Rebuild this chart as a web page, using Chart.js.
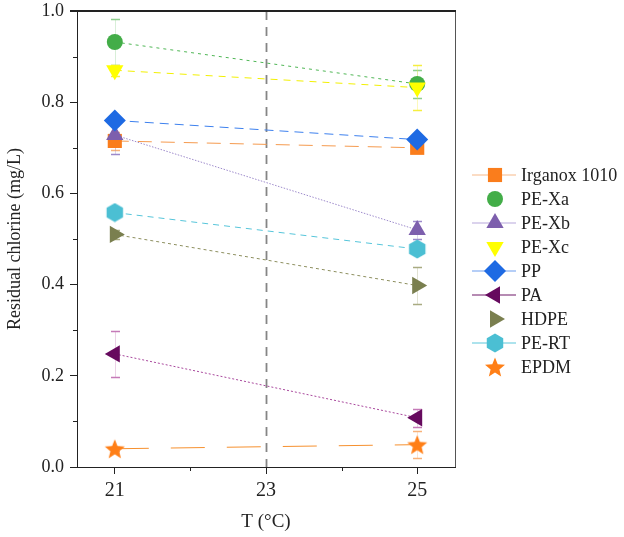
<!DOCTYPE html>
<html>
<head>
<meta charset="utf-8">
<script src="https://cdn.jsdelivr.net/npm/chart.js@4.4.1/dist/chart.umd.min.js"></script>
<style>
  html, body { margin: 0; padding: 0; background: #fff; }
  #wrap { width: 624px; height: 537px; }
</style>
</head>
<body>
<div id="wrap"><canvas id="chart" width="624" height="537"></canvas></div>
<script>
// temperatures (°C) and residual chlorine (mg/L)
const temps = [21, 25];
const irganox = [0.715, 0.700];
const peXa = [0.932, 0.840];
const peXb = [0.728, 0.520];
const peXc = [0.870, 0.832];
const pp = [0.760, 0.718];
const pa = [0.248, 0.108];
const hdpe = [0.510, 0.398];
const peRt = [0.558, 0.478];
const epdm = [0.040, 0.049];

// error bars (+/-)
const irganoxErr = [0.02, 0.01];
const peXaErr = [0.05, 0.03];
const peXbErr = [0.042, 0.02];
const peXcErr = [0.012, 0.05];
const ppErr = [0.01, 0.01];
const paErr = [0.05, 0.02];
const hdpeErr = [0.01, 0.04];
const peRtErr = [0.01, 0.01];
const epdmErr = [0.004, 0.03];

const xTicks = [21, 23, 25];
const xMinor = [22, 24];
const yTicks = [0, 0.2, 0.4, 0.6, 0.8, 1.0];
const yMinor = [0.1, 0.3, 0.5, 0.7, 0.9];

const serif = "'Liberation Serif', 'DejaVu Serif', serif";

function shapeCanvas(draw, size) {
  const c = document.createElement('canvas');
  c.width = size; c.height = size;
  draw(c.getContext('2d'), size / 2);
  return c;
}
const hexagon = shapeCanvas((g, r) => {
  g.fillStyle = '#4bbfd3';
  g.beginPath();
  for (let i = 0; i < 6; i++) {
    const a = Math.PI / 2 + i * Math.PI / 3;
    g.lineTo(r + (r - 0.5) * Math.cos(a), r - (r - 0.5) * Math.sin(a));
  }
  g.closePath();
  g.fill();
}, 20);
const star = shapeCanvas((g, r) => {
  g.fillStyle = '#ff7f17';
  g.beginPath();
  for (let i = 0; i < 10; i++) {
    const rr = i % 2 ? r * 0.42 : r - 0.5;
    const a = -Math.PI / 2 + i * Math.PI / 5;
    g.lineTo(r + rr * Math.cos(a), r + 1 + rr * Math.sin(a));
  }
  g.closePath();
  g.fill();
}, 22);

function pts(vals) { return temps.map((t, i) => ({ x: t, y: vals[i] })); }

const series = [
  { label: 'Irganox 1010', data: irganox, err: irganoxErr, color: '#fa7d1c', line: '#f59a4e', errColor: '#f7b27a', dash: [14, 9], style: 'rect', radius: 10, rot: 0, legendLine: '#f8b98a' },
  { label: 'PE-Xa', data: peXa, err: peXaErr, color: '#43ad48', line: '#4fb655', errColor: '#8fd08f', dash: [3, 4], style: 'circle', radius: 8, rot: 0, legendLine: null },
  { label: 'PE-Xb', data: peXb, err: peXbErr, color: '#7d5fad', line: '#9d8acb', errColor: '#9d8acb', dash: [1.5, 1.5], style: 'triangle', radius: 10, rot: 0, legendLine: '#b7a8dc' },
  { label: 'PE-Xc', data: peXc, err: peXcErr, color: '#ffff00', line: '#f2f000', errColor: '#f5ee40', dash: [7, 6], style: 'triangle', radius: 10, rot: 180, legendLine: null },
  { label: 'PP', data: pp, err: ppErr, color: '#1e6ae3', line: '#3d80ee', errColor: '#7fa9f0', dash: [9, 6], style: 'rectRot', radius: 11, rot: 0, legendLine: '#6d9ef0' },
  { label: 'PA', data: pa, err: paErr, color: '#660a5e', line: '#a8479c', errColor: '#c57ab8', dash: [2, 2], style: 'triangle', radius: 10, rot: -90, legendLine: '#6e1868' },
  { label: 'HDPE', data: hdpe, err: hdpeErr, color: '#7a7f4f', line: '#8d8f5f', errColor: '#a9ab82', dash: [3, 3], style: 'triangle', radius: 10, rot: 90, legendLine: null },
  { label: 'PE-RT', data: peRt, err: peRtErr, color: '#4bbfd3', line: '#56c5da', errColor: '#8ad6e4', dash: [6, 5], style: hexagon, radius: 10, rot: 0, legendLine: '#5cc8dc' },
  { label: 'EPDM', data: epdm, err: epdmErr, color: '#ff7f17', line: '#f6902e', errColor: '#f8b27a', dash: [34, 22], style: star, radius: 11, rot: 0, legendLine: null }
];

const datasets = series.map((s, i) => ({
  label: s.label,
  data: pts(s.data),
  order: series.length - i,
  borderColor: s.line,
  backgroundColor: s.color,
  borderWidth: 1,
  borderDash: s.dash,
  pointStyle: s.style,
  pointRadius: s.radius,
  pointRotation: s.rot,
  pointBackgroundColor: s.color,
  pointBorderColor: s.color,
  pointBorderWidth: 0,
  tension: 0
}));

const extras = {
  id: 'extras',
  beforeDatasetsDraw(chart) {
    const { ctx, chartArea: a, scales: { x, y } } = chart;
    ctx.save();
    // dashed reference line at 23 °C
    ctx.strokeStyle = '#858585';
    ctx.lineWidth = 1.8;
    ctx.setLineDash([9, 7]);
    const xv = Math.round(x.getPixelForValue(23)) + 0.5;
    ctx.beginPath(); ctx.moveTo(xv, a.top); ctx.lineTo(xv, a.bottom); ctx.stroke();
    ctx.setLineDash([]);
    // error bars: faint stems, clearer caps
    series.forEach(s => {
      temps.forEach((t, i) => {
        const px = Math.round(x.getPixelForValue(t)) + 0.5;
        const top = Math.round(y.getPixelForValue(s.data[i] + s.err[i])) + 0.5;
        const bot = Math.round(y.getPixelForValue(s.data[i] - s.err[i])) + 0.5;
        ctx.strokeStyle = s.errColor;
        ctx.globalAlpha = 0.35;
        ctx.lineWidth = 1;
        ctx.beginPath(); ctx.moveTo(px, top); ctx.lineTo(px, bot); ctx.stroke();
        ctx.globalAlpha = 1;
        ctx.lineWidth = 1.5;
        ctx.beginPath();
        ctx.moveTo(px - 4.5, top); ctx.lineTo(px + 4.5, top);
        ctx.moveTo(px - 4.5, bot); ctx.lineTo(px + 4.5, bot);
        ctx.stroke();
      });
    });
    ctx.restore();
  },
  afterDraw(chart) {
    const { ctx, chartArea: a, scales: { x, y } } = chart;
    ctx.save();
    // frame
    ctx.strokeStyle = '#555';
    ctx.lineWidth = 1;
    ctx.beginPath();
    ctx.moveTo(a.right + 0.5, a.top); ctx.lineTo(a.right + 0.5, a.bottom);
    ctx.stroke();
    ctx.strokeStyle = '#222';
    ctx.lineWidth = 2;
    ctx.beginPath();
    ctx.moveTo(a.left - 7, a.top); ctx.lineTo(a.right + 1, a.top);
    ctx.stroke();
    // minor ticks
    ctx.lineWidth = 1;
    ctx.beginPath();
    yMinor.forEach(v => {
      const py = Math.round(y.getPixelForValue(v)) + 0.5;
      ctx.moveTo(a.left - 4, py); ctx.lineTo(a.left, py);
    });
    xMinor.forEach(v => {
      const px = Math.round(x.getPixelForValue(v)) + 0.5;
      ctx.moveTo(px, a.bottom); ctx.lineTo(px, a.bottom + 4);
    });
    ctx.stroke();
    // legend
    ctx.font = '18px ' + serif;
    ctx.textBaseline = 'middle';
    series.forEach((s, i) => {
      const ly = 175 + i * 24;
      if (s.legendLine) {
        ctx.strokeStyle = s.legendLine;
        ctx.lineWidth = 1.2;
        ctx.beginPath(); ctx.moveTo(472, ly); ctx.lineTo(516, ly); ctx.stroke();
      }
      ctx.fillStyle = s.color;
      ctx.strokeStyle = s.color;
      Chart.helpers.drawPoint(ctx, { pointStyle: s.style, radius: s.radius, rotation: s.rot, borderWidth: 0 }, 495, ly);
      ctx.fillStyle = '#222';
      ctx.fillText(s.label, 521, ly + 1);
    });
    ctx.restore();
  }
};

new Chart(document.getElementById('chart'), {
  type: 'line',
  data: { datasets },
  plugins: [extras],
  options: {
    responsive: false,
    animation: false,
    layout: { padding: { top: 4, right: 169, left: 4, bottom: 0 } },
    plugins: { legend: { display: false }, tooltip: { enabled: false } },
    scales: {
      x: {
        type: 'linear',
        min: 20.5,
        max: 25.5,
        afterBuildTicks: s => { s.ticks = xTicks.map(v => ({ value: v })); },
        afterFit: s => { s.height = 70; s.paddingLeft = 0; s.paddingRight = 0; },
        grid: { drawOnChartArea: false, tickLength: 7, color: '#222', tickColor: '#222' },
        border: { color: '#222', width: 1 },
        ticks: { color: '#222', font: { family: serif, size: 20 }, padding: 5 },
        title: { display: true, text: 'T (°C)', color: '#222', font: { family: serif, size: 19 }, padding: { top: 11 } }
      },
      y: {
        min: 0,
        max: 1.0,
        afterBuildTicks: s => { s.ticks = yTicks.map(v => ({ value: v })); },
        afterFit: s => { s.width = 73; s.paddingTop = 0; s.paddingBottom = 0; },
        grid: { drawOnChartArea: false, tickLength: 7, color: '#222', tickColor: '#222' },
        border: { color: '#222', width: 1 },
        ticks: { color: '#222', font: { family: serif, size: 18 }, padding: 6, callback: v => v.toFixed(1) },
        title: { display: true, text: 'Residual chlorine (mg/L)', color: '#222', font: { family: serif, size: 18 }, padding: { top: 0, bottom: 0 } }
      }
    }
  }
});
</script>
</body>
</html>
